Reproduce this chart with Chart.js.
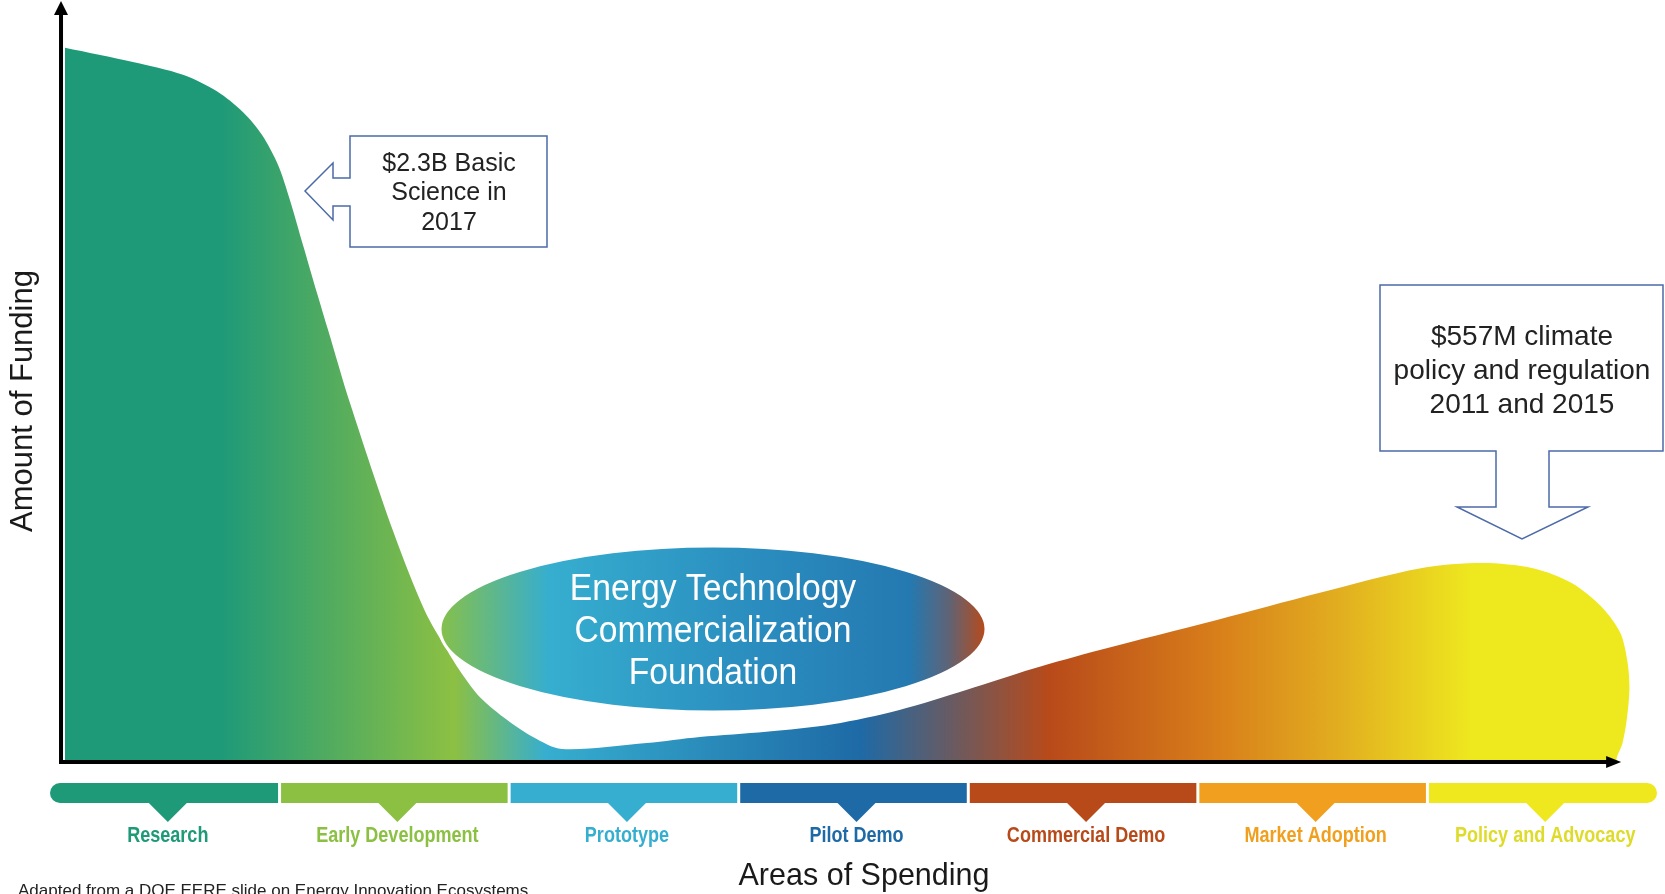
<!DOCTYPE html>
<html>
<head>
<meta charset="utf-8">
<script src="https://cdn.jsdelivr.net/npm/chart.js@4.4.1/dist/chart.umd.min.js"></script>
<style>
  html, body { margin: 0; padding: 0; background: #ffffff; }
  #wrap { width: 1665px; height: 894px; position: relative; }
</style>
</head>
<body>
<div id="wrap"><canvas id="c"></canvas></div>
<script>
// ---- DATA ----
// Stages along the x axis (each stage occupies one unit: [i, i+1])
const stageLabels = ['Research', 'Early Development', 'Prototype', 'Pilot Demo', 'Commercial Demo', 'Market Adoption', 'Policy and Advocacy'];
// Funding curve (x in stage units, y = relative amount of funding, 0-100)
const curveX = [0.065, 0.361, 0.579, 0.727, 0.841, 0.923, 0.993, 1.045, 1.102, 1.163, 1.211, 1.307, 1.494, 1.633, 1.729, 1.786, 1.873, 1.99, 2.104, 2.23, 2.60, 2.83, 3.12, 3.41, 3.70, 3.994, 4.281, 4.573, 5.083, 5.527, 5.971, 6.24, 6.46, 6.63, 6.76, 6.84, 6.87, 6.88, 6.87, 6.85, 6.825, 6.9];
const curveY = [95.1, 93.2, 91.5, 89.3, 86.5, 83.5, 79.5, 74.8, 68.8, 62.4, 57.5, 47.7, 30.7, 20.0, 14.8, 12.0, 8.5, 5.5, 3.2, 1.6, 2.4, 3.2, 3.9, 4.9, 6.8, 9.5, 12.3, 14.8, 18.8, 22.4, 25.7, 26.4, 25.7, 23.7, 20.5, 17.1, 13.5, 9.9, 5.9, 2.4, 0, 0];
// Text content
const yTitle = 'Amount of Funding';
const xTitle = 'Areas of Spending';
const ellipseText = ['Energy Technology', 'Commercialization', 'Foundation'];
const callout1Text = ['$2.3B Basic', 'Science in', '2017'];
const callout2Text = ['$557M climate', 'policy and regulation', '2011 and 2015'];
const sourceNote = 'Adapted from a DOE EERE slide on Energy Innovation Ecosystems';

// ---- STYLES ----
const stageBarColors = ['#1f9a78', '#8cc043', '#36aecf', '#1e6aa6', '#b84a1a', '#f0a01e', '#efe81f'];
const stageTextColors = ['#1f9a78', '#8cc043', '#36aecf', '#1e6aa6', '#b84a1a', '#f0a01e', '#dedb2a'];
const areaStops = [[0, '#1f9a78'], [0.75, '#1f9a78'], [1.76, '#8cc043'], [2.16, '#36aecf'], [3.53, '#1e6aa6'], [4.35, '#b84a1a'], [5.08, '#d87e1a'], [5.64, '#e2b020'], [6.19, '#eee81f'], [7, '#eee81f']];
const sans = '"Liberation Sans", Arial, sans-serif';
const calloutStroke = '#4c6aa9';

function condensedText(ctx, text, x, y, sx) {
  ctx.save();
  ctx.translate(x, y);
  ctx.scale(sx, 1);
  ctx.fillText(text, 0, 0);
  ctx.restore();
}

const overlay = {
  id: 'overlay',
  afterDatasetsDraw(chart) {
    const ctx = chart.ctx;
    const xs = chart.scales.x, ys = chart.scales.y;
    const X = v => xs.getPixelForValue(v);
    const Y = v => ys.getPixelForValue(v);

    // Ellipse
    ctx.save();
    const ecx = 713, ecy = 629, erx = 273, ery = 83;
    const eg = ctx.createLinearGradient(ecx - erx, 0, ecx + erx, 0);
    eg.addColorStop(0, '#86c04a');
    eg.addColorStop(0.2, '#36aecf');
    eg.addColorStop(0.55, '#2b8fc0');
    eg.addColorStop(0.86, '#2479b1');
    eg.addColorStop(0.93, '#5d6478');
    eg.addColorStop(1, '#b84a1a');
    ctx.beginPath();
    ctx.ellipse(ecx, ecy, erx, ery, 0, 0, Math.PI * 2);
    ctx.fillStyle = eg;
    ctx.fill();
    ctx.lineWidth = 3;
    ctx.strokeStyle = '#ffffff';
    ctx.stroke();
    ctx.fillStyle = '#ffffff';
    ctx.font = '37px ' + sans;
    ctx.textAlign = 'center';
    ctx.textBaseline = 'middle';
    ellipseText.forEach((t, i) => condensedText(ctx, t, ecx, 590 + i * 42, 0.91));
    ctx.restore();

    // Axes with arrows
    ctx.save();
    const ox = X(0.048), oy = Y(0) + 1;
    ctx.fillStyle = '#000';
    ctx.strokeStyle = '#000';
    ctx.lineWidth = 4;
    ctx.beginPath();
    ctx.moveTo(ox, oy + 2);
    ctx.lineTo(ox, 14);
    ctx.stroke();
    ctx.beginPath();
    ctx.moveTo(ox, 1); ctx.lineTo(ox - 7, 15); ctx.lineTo(ox + 7, 15); ctx.closePath(); ctx.fill();
    const xe = X(6.835);
    ctx.beginPath();
    ctx.moveTo(ox - 2, oy);
    ctx.lineTo(xe - 12, oy);
    ctx.stroke();
    ctx.beginPath();
    ctx.moveTo(xe + 2, oy); ctx.lineTo(xe - 13, oy - 6); ctx.lineTo(xe - 13, oy + 6); ctx.closePath(); ctx.fill();
    ctx.restore();

    // Callout 1 (left-pointing arrow box)
    ctx.save();
    ctx.beginPath();
    [[350,136],[547,136],[547,247],[350,247],[350,206],[333,206],[333,220],[305,191],[333,163],[333,178],[350,178]].forEach((p, i) => i ? ctx.lineTo(p[0], p[1]) : ctx.moveTo(p[0], p[1]));
    ctx.closePath();
    ctx.fillStyle = '#fff'; ctx.fill();
    ctx.lineWidth = 1.5; ctx.strokeStyle = calloutStroke; ctx.stroke();
    ctx.fillStyle = '#222';
    ctx.font = '25px ' + sans;
    ctx.textAlign = 'center'; ctx.textBaseline = 'middle';
    callout1Text.forEach((t, i) => ctx.fillText(t, 449, 164 + i * 29.5));

    // Callout 2 (down-pointing arrow box)
    ctx.beginPath();
    [[1380,285],[1663,285],[1663,451],[1549,451],[1549,507],[1588,507],[1522,539],[1457,507],[1496,507],[1496,451],[1380,451]].forEach((p, i) => i ? ctx.lineTo(p[0], p[1]) : ctx.moveTo(p[0], p[1]));
    ctx.closePath();
    ctx.fillStyle = '#fff'; ctx.fill();
    ctx.lineWidth = 1.5; ctx.strokeStyle = calloutStroke; ctx.stroke();
    ctx.fillStyle = '#222';
    ctx.font = '28px ' + sans;
    callout2Text.forEach((t, i) => ctx.fillText(t, 1522, 337 + i * 34));
    ctx.restore();

    // Stage bars with pointers and labels
    ctx.save();
    const barTop = 783, barBot = 803, r = 10;
    stageLabels.forEach((lab, i) => {
      const l = X(i) + (i ? 1.5 : 0), rr = X(i + 1) - (i < stageLabels.length - 1 ? 1.5 : 0);
      ctx.fillStyle = stageBarColors[i];
      ctx.beginPath();
      if (i === 0) {
        ctx.moveTo(l + r, barTop); ctx.lineTo(rr, barTop); ctx.lineTo(rr, barBot); ctx.lineTo(l + r, barBot);
        ctx.arc(l + r, barTop + r, r, Math.PI / 2, Math.PI * 1.5);
      } else if (i === stageLabels.length - 1) {
        ctx.moveTo(l, barTop); ctx.lineTo(rr - r, barTop);
        ctx.arc(rr - r, barTop + r, r, -Math.PI / 2, Math.PI / 2);
        ctx.lineTo(l, barBot);
      } else {
        ctx.rect(l, barTop, rr - l, barBot - barTop);
      }
      ctx.closePath();
      ctx.fill();
      const cx = X(i + 0.5) + 3;
      ctx.beginPath();
      ctx.moveTo(cx - 20, barBot - 1); ctx.lineTo(cx + 20, barBot - 1); ctx.lineTo(cx, 822); ctx.closePath();
      ctx.fill();
      ctx.fillStyle = stageTextColors[i];
      ctx.font = 'bold 22px ' + sans;
      ctx.textAlign = 'center'; ctx.textBaseline = 'alphabetic';
      condensedText(ctx, lab, cx, 842, 0.82);
    });
    ctx.restore();

    // Axis titles and note
    ctx.save();
    ctx.fillStyle = '#1a1a1a';
    ctx.font = '30.5px ' + sans;
    ctx.textAlign = 'center'; ctx.textBaseline = 'middle';
    ctx.fillText(xTitle, 864, 877);
    ctx.font = '31px ' + sans;
    ctx.translate(23, 401);
    ctx.rotate(-Math.PI / 2);
    ctx.fillText(yTitle, 0, 0);
    ctx.restore();
    ctx.save();
    ctx.fillStyle = '#222';
    ctx.font = '17px ' + sans;
    ctx.textAlign = 'left'; ctx.textBaseline = 'top';
    ctx.fillText(sourceNote, 18, 883);
    ctx.restore();
  }
};

new Chart(document.getElementById('c'), {
  type: 'line',
  data: {
    datasets: [{
      data: curveX.map((x, i) => ({ x: x, y: curveY[i] })),
      fill: 'origin',
      borderWidth: 0,
      borderColor: 'rgba(0,0,0,0)',
      pointRadius: 0,
      tension: 0.3,
      clip: { left: false, top: false, right: false, bottom: 0 },
      backgroundColor: (c) => {
        const ch = c.chart;
        if (!ch.chartArea) return '#1f9a78';
        const sx = ch.scales.x;
        const x0 = sx.getPixelForValue(0), x1 = sx.getPixelForValue(7);
        const g = ch.ctx.createLinearGradient(x0, 0, x1, 0);
        areaStops.forEach(s => g.addColorStop(s[0] / 7, s[1]));
        return g;
      }
    }]
  },
  options: {
    responsive: true,
    maintainAspectRatio: false,
    animation: false,
    events: [],
    layout: { padding: { left: 50, right: 8, top: 11, bottom: 133 } },
    scales: {
      x: { type: 'linear', min: 0, max: 7, display: false },
      y: { type: 'linear', min: 0, max: 100, display: false }
    },
    plugins: { legend: { display: false }, tooltip: { enabled: false } }
  },
  plugins: [overlay]
});
</script>
</body>
</html>
